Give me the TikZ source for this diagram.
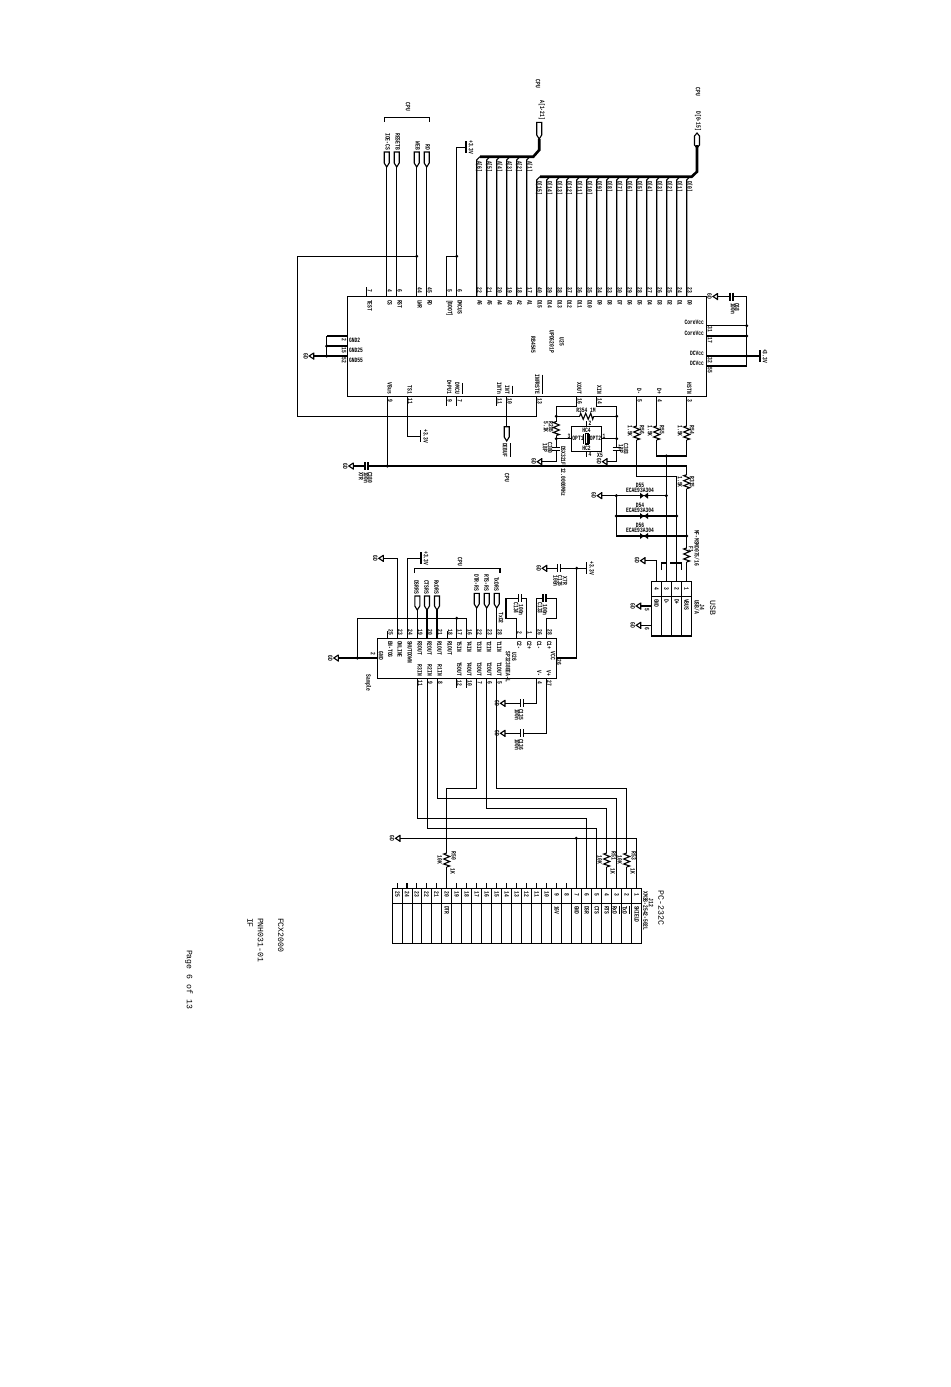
\documentclass[tikz,border=0pt]{standalone}
\usepackage{fontspec}
\setmainfont{Liberation Mono}
\newfontfamily\smf[FakeStretch=0.7]{Liberation Mono}
\newcounter{tn}
\tikzset{
 wire/.style={line width=.55pt},
 bus/.style={line width=1.3pt},
 lbl/.style={inner sep=0,outer sep=0,font=\smf\bfseries\fontsize{3.3}{3.6}\selectfont},
 big/.style={inner sep=0,outer sep=0,font=\fontsize{4.1}{5}\selectfont},
 chipbox/.style={draw,line width=.55pt,inner sep=0,outer sep=0,anchor=north west},
}
% rotated text: start at point / centred at point / ending at point
\newcommand\tvs[4][lbl]{\stepcounter{tn}\node[#1,rotate=-90,anchor=west] (t\arabic{tn}) at (#2,#3) {#4};}
\newcommand\tvc[4][lbl]{\stepcounter{tn}\node[#1,rotate=-90,anchor=center] (t\arabic{tn}) at (#2,#3) {#4};}
\newcommand\tve[4][lbl]{\stepcounter{tn}\node[#1,rotate=-90,anchor=east] (t\arabic{tn}) at (#2,#3) {#4};}
\newcommand\thz[3]{\stepcounter{tn}\node[lbl] (t\arabic{tn}) at (#1,#2) {#3};}
\newcommand\ol[1]{$\overline{\hbox{#1}}$}
\newcommand\jct[3]{\coordinate (#1) at (#2,#3); \fill (#1) circle (1.7);}
\newcommand\gnd[3]{\coordinate (#1) at (#2,#3);
  \draw[wire] (#2,#3-3.5) -- (#2,#3+3.5) (#2,#3-3) -- (#2-4.5,#3) -- (#2,#3+3);
  \tvc{#2-8}{#3}{GD}}
\newcommand\vcc[3]{\coordinate (#1) at (#2,#3);
  \draw[wire] (#2,#3-6) -- (#2,#3+6);
  \tvc{#2+5}{#3}{+3.3V}}
\newcommand\sigc[4]{\coordinate (#1) at (#2,#4);
  \draw[wire] (#2-2.5,#3) -- (#2+2.5,#3) -- (#2+2.5,#4-4) -- (#2,#4) -- (#2-2.5,#4-4) -- cycle;}
\newcommand\resv[2]{\fill[white] (#1-4,#2-7) rectangle (#1+4,#2+7);
  \draw[wire] (#1,#2-7) -- (#1-3,#2-6) -- (#1+3,#2-3.5) -- (#1-3,#2-1) -- (#1+3,#2+1.5) -- (#1-3,#2+4) -- (#1+3,#2+6) -- (#1,#2+7);}
\newcommand\resh[2]{\fill[white] (#1-7,#2-4) rectangle (#1+7,#2+4);
  \draw[wire] (#1-7,#2) -- (#1-6,#2-3) -- (#1-3.5,#2+3) -- (#1-1,#2-3) -- (#1+1.5,#2+3) -- (#1+4,#2-3) -- (#1+6,#2+3) -- (#1+7,#2);}
\newcommand\caph[2]{\fill[white] (#1-1.5,#2-2) rectangle (#1+1.5,#2+2);
  \draw[wire] (#1-1.5,#2-4) -- (#1-1.5,#2+4) (#1+1.5,#2-4) -- (#1+1.5,#2+4);}
\newcommand\capv[2]{\fill[white] (#1-2,#2-1.5) rectangle (#1+2,#2+1.5);
  \draw[wire] (#1-4,#2-1.5) -- (#1+4,#2-1.5) (#1-4,#2+1.5) -- (#1+4,#2+1.5);}
\newcommand\diode[2]{\fill (#1-4,#2-3) -- (#1,#2) -- (#1-4,#2+3) -- cycle;
  \fill (#1+4,#2-3) -- (#1,#2) -- (#1+4,#2+3) -- cycle;}
\begin{document}
\begin{tikzpicture}[x=0.5pt,y=-0.5pt]
\useasboundingbox[fill=white] (0,0) rectangle (950,1387);
%% ---------- chips
\node[chipbox,minimum width=179.5pt,minimum height=50pt] (U25) at (347.5,296.5) {};
\node[chipbox,minimum width=89.5pt,minimum height=20pt] (U26) at (377.3,638.3) {};
\node[chipbox,minimum width=124.5pt,minimum height=27.5pt] (J12) at (392.7,888.3) {};
\node[chipbox,minimum width=20.2pt,minimum height=27.15pt] (J4) at (651.3,581.7) {};
\node[chipbox,minimum width=15.2pt,minimum height=12.3pt] (X5) at (571.3,426.7) {};
%% ---------- U25 top: control signals
\sigc{sCS}{386.7}{152}{167}
\sigc{sRST}{396.7}{152}{167}
\sigc{sWE}{416.7}{152}{167}
\sigc{sRD}{426.7}{152}{167}
\foreach \n in {sCS,sRST,sWE,sRD}{\draw[wire] (\n) -- (U25.north -| \n);}
\coordinate (brL) at (384.3,121.7); \coordinate (brR) at (429.7,121.7);
\draw[wire] (brL) -- (384.3,117.3) -- (429.7,117.3) -- (brR);
\tvc{408}{106.7}{CPU}
\tve{387.7}{150}{IOE-CS}
\tve{397.7}{150}{RESETB}
\tve{417.7}{150}{WEB}
\tve{427.7}{150}{RD}
\foreach \x/\n/\l in {366.7/7/TEST,386.7/4/CS,396.7/6/RST,416.7/44/LWR,426.7/45/RD,446.7/5/[BOOT],456.7/6/DMCUS}{
  \tvc{\x+3}{290.7}{\n}
  \tvs{\x+3}{300}{\l}
}
\draw[wire] (U25.north -| 366.7,0) -- (366.7,286.7);
%% reset loop
\jct{jRst}{416.7}{256.3}
\coordinate (infr) at (536.7,396.5);
\draw[wire] (jRst) -- (297.3,256.3) -- (297.3,416.3) -- (536.7,416.3) -- (infr);
%% +3.3V boot
\jct{jBoot}{456.7}{256.3}
\vcc{pTop}{466}{147.3}
\draw[wire] (U25.north -| jBoot) -- (456.7,147.3) -- (pTop);
\draw[wire] (jBoot) -- (446.7,256.3) -- (U25.north -| 446.7,0);
%% ---------- address bus
\foreach \x/\n/\l in {476.7/22/6,486.7/21/5,496.7/20/4,506.7/19/3,516.7/18/2,526.7/17/1}{
  \draw[wire] (U25.north -| \x,0) -- (\x,160) -- (\x+3.3,156.7);
  \tvs{\x+2.5}{161}{A[\l]}
  \tvc{\x+3}{290.7}{\n}
  \tvs{\x+3}{300}{A\l}
}
\sigc{sAddr}{539.2}{122.3}{139}
\draw[bus] (480,156.7) -- (533.3,156.7) -- (539.2,150) -- (sAddr);
\tve{541.7}{120}{A[1-21]}
\tvc{538}{84}{CPU}
%% ---------- data bus
\foreach \x/\n/\l/\p in {536.7/40/15/D15/Pc6,546.7/39/14/D14/Pc5,556.7/38/13/D13/Pc4,566.7/37/12/D12/Pc3,576.7/36/11/D11/Pc2,586.7/35/10/D10/Pc1,596.7/34/9/D9/Pc0,606.7/33/8/D8/Pc,616.7/30/7/D7,626.7/29/6/D6,636.7/28/5/D5,646.7/27/4/D4,656.7/26/3/D3,666.7/25/2/D2,676.7/24/1/D1,686.7/23/0/D0}{
  \draw[wire] (U25.north -| \x,0) -- (\x,180) -- (\x+3.3,176.7);
  \tvs{\x+2.5}{181}{D[\l]}
  \tvc{\x+3}{290.7}{\n}
  \tvs{\x+3}{300}{\p}
}
\coordinate (sData) at (697,145);
\draw[wire] (694.5,145) -- (694.5,136) -- (697,133) -- (699.5,136) -- (699.5,145) -- (697,148) -- cycle;
\draw[bus] (540,176.7) -- (691.7,176.7) -- (697,171.7) -- (sData);
\tve{698}{131}{D[0-15]}
\tvc{698}{92}{CPU}
%% ---------- U25 right: power
\coordinate (cTop) at (746.7,296.5);
\gnd{gA}{717.5}{296.5}
\draw[wire] (gA) -- (cTop) -- (746.7,366) -- (U25.south east |- 0,366);
\caph{731.5}{296.5}
\tvs{737}{303}{C68}
\tvs{733}{303}{100n}
\foreach \y/\n/\l in {325.7/31/CoreVcc,336/17/CoreVcc,356/32/DCVcc,366/55/DCVcc}{
  \draw[wire] (U25.east |- 0,\y) -- (746.7,\y);
  \stepcounter{tn}\node[lbl,anchor=east] (t\arabic{tn}) at (704,\y-3) {\l};
  \tvc{710}{\y+4}{\n}
}
\jct{jR1}{746.7}{325.7}
\jct{jR2}{746.7}{336}
\jct{jR3}{746.7}{356}
\vcc{pR}{760}{356}
\draw[wire] (jR3) -- (pR);
%% ---------- U25 left: ground
\foreach \y/\n/\l in {336/2/GND2,346/15/GND25,356/52/GND55}{
  \draw[wire] (U25.west |- 0,\y) -- (326.7,\y);
  \stepcounter{tn}\node[lbl,anchor=west] (t\arabic{tn}) at (349,\y+4) {\l};
  \tvc{344}{\y+4}{\n}
}
\draw[wire] (326.7,336) -- (326.7,356);
\jct{jL1}{326.7}{346}
\jct{jL2}{326.7}{356}
\gnd{gL}{313.7}{356}
\draw[wire] (jL2) -- (gL);
%% ---------- U25 bottom
\jct{jVbus}{387.3}{466}
\coordinate (cVbus) at (686.7,466);
\gnd{gV}{353.3}{466}
\draw[wire] (U25.south -| jVbus) -- (jVbus);
\draw[wire] (gV) -- (cVbus) -- (686.7,581.7);
\caph{366.5}{466}
\tvs{370}{472}{C380}
\tvs{366}{472}{100n}
\tvs{361}{472}{X7R}
\vcc{pTS}{420.7}{436.3}
\draw[wire] (U25.south -| 407.3,0) -- (407.3,436.3) -- (pTS);
\foreach \x in {446.7,456.7,496.7}{\draw[wire] (U25.south -| \x,0) -- (\x,406);}
\sigc{sDbg}{506.7}{426.7}{441}
\draw[wire] (U25.south -| 506.7,0) -- (506.7,426.7);
\tvs{507}{443}{\ol{DEBUF}}
\tvc{507}{478}{CPU}
\foreach \x/\n/\l in {387.3/9/VBus,407.3/11/TS1,446.7/9/D+PU1,456.7/7/\ol{DMCU},496.7/11/INTn/SOF,506.7/10/\ol{INT},536.7/13/\ol{INFRSTE},576.7/16/XOUT,596.7/14/XIN,636.7/5/D-,656.7/4/D+,686.7/3/HSTN}{
  \tve{\x+2.5}{394}{\l}
  \tvc{\x+3}{401}{\n}
}
\tvc{533.3}{345}{RB4545}
\tvc{551.7}{341.7}{UPD6201P}
\tvc{561.7}{341.7}{U25}
%% ---------- crystal
\coordinate (xL) at (556.3,406.3); \coordinate (xR) at (616.7,406.3);
\gnd{gX1}{541.7}{461.7}
\gnd{gX2}{607}{461.7}
\draw[wire] (U25.south -| 576.7,0) -- (576.7,406.3) -- (xL) -- (556.3,461.7) -- (gX1);
\draw[wire] (U25.south -| 596.7,0) -- (596.7,406.3) -- (xR) -- (616.7,461.7) -- (gX2);
\jct{jXa}{556.3}{416.3}
\jct{jXb}{616.7}{416.3}
\jct{jXc}{556.3}{438.7}
\jct{jXd}{616.7}{438.7}
\draw[wire] (jXa) -- (jXb);
\resh{586.7}{416.3}
\stepcounter{tn}\node[lbl] (t\arabic{tn}) at (586,410) {R354 1M};
\resv{556.3}{428.5}
\tvc{551}{427}{R285}
\tvc{546}{427}{5.1K}
\draw[wire] (jXc) -- (X5.west |- jXc);
\draw[wire] (jXd) -- (X5.east |- jXd);
\draw[wire] (X5.north -| 586.7,0) -- (586.7,421);
\draw[wire] (X5.south -| 586.7,0) -- (586.7,457);
\capv{556.3}{449}
\capv{616.7}{449}
\tvc{550}{448}{C380}
\tvc{545}{448}{18P}
\tvc{626}{449}{C383}
\tvc{621}{449}{18P}
\fill[white] (583,433) rectangle (590.5,444.5);
\thz{586.5}{430}{HC4}
\thz{586.5}{448}{HC2}
\thz{578}{438.7}{OPT1}
\thz{595.5}{438.7}{OPT2}
\thz{590}{423}{2}
\thz{569}{436}{3}
\thz{604}{436}{1}
\thz{590}{454}{4}
\thz{600}{455}{X5}
\draw[wire] (583.5,434) -- (583.5,444) (589.7,434) -- (589.7,444);
\draw[wire] (585.3,433.5) rectangle (588,444);
\tvs{563.3}{446}{DSX321F 12.0000MHz}
%% ---------- USB pull ups and lines
\coordinate (dm) at (676.7,476.3);
\jct{jPu}{666.3}{456}
\draw[wire] (U25.south -| 636.7,0) -- (636.7,476.3) -- (dm) -- (676.7,581.7);
\draw[wire] (U25.south -| 656.7,0) -- (656.7,456) -- (686.7,456) -- (U25.south -| 686.7,0);
\draw[wire] (jPu) -- (666.3,581.7);
\resv{636.7}{433}
\resv{656.7}{433}
\resv{686.7}{433}
\resv{686.7}{481.7}
\tvc{642}{430}{R56}
\tvc{662}{430}{R55}
\tvc{692}{430}{R54}
\tvc{692}{482}{R315}
\tvc{630}{431}{1.5K}
\tvc{650}{431}{1.5K}
\tvc{680}{431}{1.5K}
\tvc{680}{482}{1.5K}
%% diodes
\gnd{gD}{601.7}{495.7}
\jct{jD1}{616.3}{495.7}
\jct{jD2}{616.3}{516}
\coordinate (jD3) at (616.3,536);
\jct{jE1}{666.3}{495.7}
\jct{jE2}{676.7}{516}
\jct{jE3}{686.7}{536}
\draw[wire] (gD) -- (jE1) (jD2) -- (jE2) (jD1) -- (jD3) -- (jE3);
\foreach \y/\l in {495.7/D55,516/D54,536/D56}{
  \diode{644}{\y}
  \stepcounter{tn}\node[lbl] (t\arabic{tn}) at (640,\y-10.5) {\l};
  \stepcounter{tn}\node[lbl] (t\arabic{tn}) at (640,\y-5.5) {ECAE93A304};
}
\resv{686.7}{555}
\tvs{697}{530}{MF-MSMD075/16}
\tvc{691}{549}{F1}
%% ---------- USB connector
\draw[wire] (J4.west |- 0,596.7) -- (J4.east |- 0,596.7);
\foreach \x/\n/\l in {661.3/3/D-,671.7/2/D+,681.7/1/VBUS}{
  \draw[wire] (\x,581.7) -- (\x,636);
}
\foreach \x/\n/\l in {656.5/4/GND,666.5/3/D-,676.7/2/D+,686.5/1/VBUS}{
  \tvc{\x}{589}{\n}
  \tvs{\x}{599}{\l}
}
\gnd{gU}{645}{560.7}
\draw[wire] (gU) -- (656.7,560.7) -- (J4.north -| 656.7,0);
\draw[wire] (661.3,570) -- (661.3,563) -- (666,563) (670,563) -- (679,563) -- (681.5,563) -- (681.5,570);
\gnd{gU1}{640.7}{606}
\gnd{gU2}{640.7}{625.3}
\draw[wire] (gU1) -- (J4.west |- gU1);
\draw[wire] (gU2) -- (J4.west |- gU2);
\tvc{647}{610}{5}
\tvc{647}{629}{6}
\tvc{697}{607}{USB/A}
\tvc{702}{607}{J4}
\tvc[big]{712.7}{608}{USB}
%% ---------- U26 top
\gnd{gS}{383.3}{558.3}
\vcc{pS}{421}{558.3}
\draw[wire] (U26.north -| 397.3,0) -- (397.3,558.3) -- (gS);
\draw[wire] (U26.north -| 407.3,0) -- (407.3,558.3) -- (pS);
\draw[wire] (U26.north -| 387.7,0) -- (387.7,631);
\draw[wire] (U26.north -| 447.3,0) -- (447.3,631);
\sigc{sDS}{417.3}{596}{610}
\sigc{sCT}{427}{596}{610}
\sigc{sRX}{437}{596}{610}
\sigc{sDT}{476.7}{593.3}{608}
\sigc{sRT}{486.7}{593.3}{608}
\sigc{sTX}{496.7}{593.3}{608}
\foreach \n in {sDS,sCT,sRX,sDT,sRT,sTX}{\draw[wire] (\n) -- (U26.north -| \n);}
\coordinate (b2L) at (414.7,573); \coordinate (b2R) at (500,573);
\draw[wire] (b2L) -- (414.7,568.3) -- (500,568.3) -- (b2R);
\tvc{460}{561.7}{CPU}
\tve{416.5}{594}{DSRRS}
\tve{426.5}{594}{CTSRS}
\tve{436.5}{594}{RxDRS}
\tve{476.5}{591}{DTR-RS}
\tve{486.5}{591}{RTS-RS}
\tve{496.5}{591}{TxDRS}
\tvc{501}{618}{TxD2}
\foreach \x/\n/\l in {387.7/25/EN-TOG,397.3/23/ONLINE,407.3/24/SHUTDOWN,417.3/19/R3OUT,427/20/R2OUT,437/21/R1OUT,447.3/18/R1OUT,456.7/17/T5IN,466.7/16/T4IN,476.7/22/T3IN,486.7/23/T2IN,496.7/28/T1IN,516.7/2/C2-,526.7/1/C2+,536.7/26/C1-,546.7/28/C1+}{
  \tvc{\x+3}{632.5}{\n}
  \tvs{\x+2.5}{641}{\l}
}
\jct{jT}{456.7}{618.3}
\draw[wire] (U26.north -| 466.7,0) -- (466.7,618.3) -- (357.3,618.3) -- (357.3,658);
\draw[wire] (U26.north -| 456.7,0) -- (jT);
\jct{jG}{357.3}{658}
\gnd{gG}{338.3}{658}
\draw[wire] (gG) -- (U26.west |- jG);
\tvc{381}{656}{GND}
\tvc{373}{654}{2}
\tvc{368}{683}{Sample}
%% pump capacitors
\draw[wire] (U26.north -| 516.7,0) -- (516.7,618.3) -- (506,618.3) -- (506,598.3) -- (526.7,598.3) -- (U26.north -| 526.7,0);
\draw[wire] (U26.north -| 536.7,0) -- (536.7,598.3) -- (556.7,598.3) -- (556.7,618.3) -- (546.7,618.3) -- (U26.north -| 546.7,0);
\caph{520}{598.3}
\caph{544.5}{598.3}
\tvc{516}{608}{C134}
\tvc{521}{610}{100n}
\tvc{540}{608}{C133}
\tvc{545}{610}{100n}
%% VCC of U26
\jct{jVc}{576.7}{568.3}
\vcc{pV}{586.7}{568.3}
\gnd{gV2}{546.7}{568.3}
\draw[wire] (U26.east |- 0,658) -- (576.7,658) -- (jVc);
\draw[wire] (gV2) -- (pV);
\caph{559}{568.3}
\tvc{560}{581}{C135}
\tvc{555.5}{581}{100n}
\tvc{565}{581}{X7R}
\tvc{559}{662}{26}
\tvc{553}{656}{VCC}
\tvc{508}{666.7}{SP3238EEA-L}
\tvc{514.3}{656.7}{U26}
%% U26 bottom
\foreach \x/\n/\l in {417.3/11/R3IN,427.3/9/R2IN,437.3/8/R1IN,456.7/12/T5OUT,466.7/10/T4OUT,476.7/7/T3OUT,486.7/6/T2OUT,496.7/5/T1OUT,536.7/4/V-,546.3/27/V+}{
  \tve{\x+2.5}{676}{\l}
  \tvc{\x+3}{683}{\n}
}
\foreach \x in {456.7,466.7}{\draw[wire] (U26.south -| \x,0) -- (\x,688);}
\gnd{gP1}{505}{703.3}
\gnd{gP2}{505}{733.3}
\draw[wire] (U26.south -| 536.7,0) -- (536.7,703.3) -- (gP1);
\draw[wire] (U26.south -| 546.3,0) -- (546.3,733.3) -- (gP2);
\caph{522}{703.3}
\caph{522}{733.3}
\tvs{521}{709}{C135}
\tvs{517}{709}{100n}
\tvs{521}{739}{C136}
\tvs{517}{739}{100n}
%% ---------- routing to RS232 connector
\draw[wire] (U26.south -| 417.3,0) -- (417.3,818.3) -- (586.7,818.3) -- (J12.north -| 586.7,0);
\draw[wire] (U26.south -| 427.3,0) -- (427.3,828.3) -- (596.7,828.3) -- (J12.north -| 596.7,0);
\draw[wire] (U26.south -| 437.3,0) -- (437.3,798.3) -- (616.7,798.3) -- (J12.north -| 616.7,0);
\draw[wire] (U26.south -| 476.7,0) -- (476.7,788.3) -- (446.7,788.3) -- (J12.north -| 446.7,0);
\draw[wire] (U26.south -| 486.7,0) -- (486.7,808.3) -- (606.7,808.3) -- (J12.north -| 606.7,0);
\draw[wire] (U26.south -| 496.7,0) -- (496.7,788.3) -- (626.7,788.3) -- (J12.north -| 626.7,0);
\gnd{gC}{400}{838.3}
\jct{jC}{576.3}{838.3}
\draw[wire] (gC) -- (636.7,838.3) -- (J12.north -| 636.7,0);
\draw[wire] (jC) -- (J12.north -| 576.3,0);
\foreach \x/\l in {446.7/R50,606.7/R51,626.7/R53}{
  \resv{\x}{860}
  \tvc{\x+7}{856}{\l}
  \tvc{\x-7}{860}{10K}
  \tvc{\x+6}{871}{1K}
}
%% ---------- RS232 connector
\draw[wire] (J12.west |- 0,903.3) -- (J12.east |- 0,903.3);
\foreach \x in {402.7,412.3,421.7,431.7,441.7,451.7,461.7,471.7,481.7,491.7,501.7,511.7,521.7,531.7,541.7,551.7,561.7,571.7,581.7,591.7,601.7,611.7,621.7,631.7}{
  \draw[wire] (\x,888.3) -- (\x,943.3);
}
\foreach \n/\x in {1/636.7,2/626.7,3/616.7,4/606.7,5/596.7,6/586.7,7/576.7,8/566.7,9/556.7,10/546.7,11/536.7,12/526.7,13/516.7,14/506.7,15/496.7,16/486.7,17/476.7,18/466.7,19/456.7,20/446.7,21/436.7,22/426.7,23/416.7,24/407,25/397.5}{
  \tvc{\x}{894.5}{\n}
}
\foreach \x in {397.5,407,416.7,426.7,436.7,456.7,466.7,476.7,486.7,496.7,506.7,516.7,526.7,536.7,546.7,556.7,566.7}{
  \draw[wire] (J12.north -| \x,0) -- (\x,882.7);
}
\foreach \x/\l in {636.7/SHIELD,626.7/\ol{TxD},616.7/\ol{RxD},606.7/RTS,596.7/CTS,586.7/DSR,576.7/GND,556.7/16V,446.7/DTR}{
  \tvs{\x}{906}{\l}
}
\tvc{651}{903}{J12}
\tvc{645.5}{911}{XM3B-2542-502L}
\tvc[big]{661}{908}{PC-232C}
%% ---------- title block
\tvs[big]{280.7}{918}{FCX2000}
\tvs[big]{260.7}{918}{PNH031-01}
\tvs[big]{250}{918}{IF}
\tvs[big]{189}{950}{Page 6 of 13}
\end{tikzpicture}
\end{document}
